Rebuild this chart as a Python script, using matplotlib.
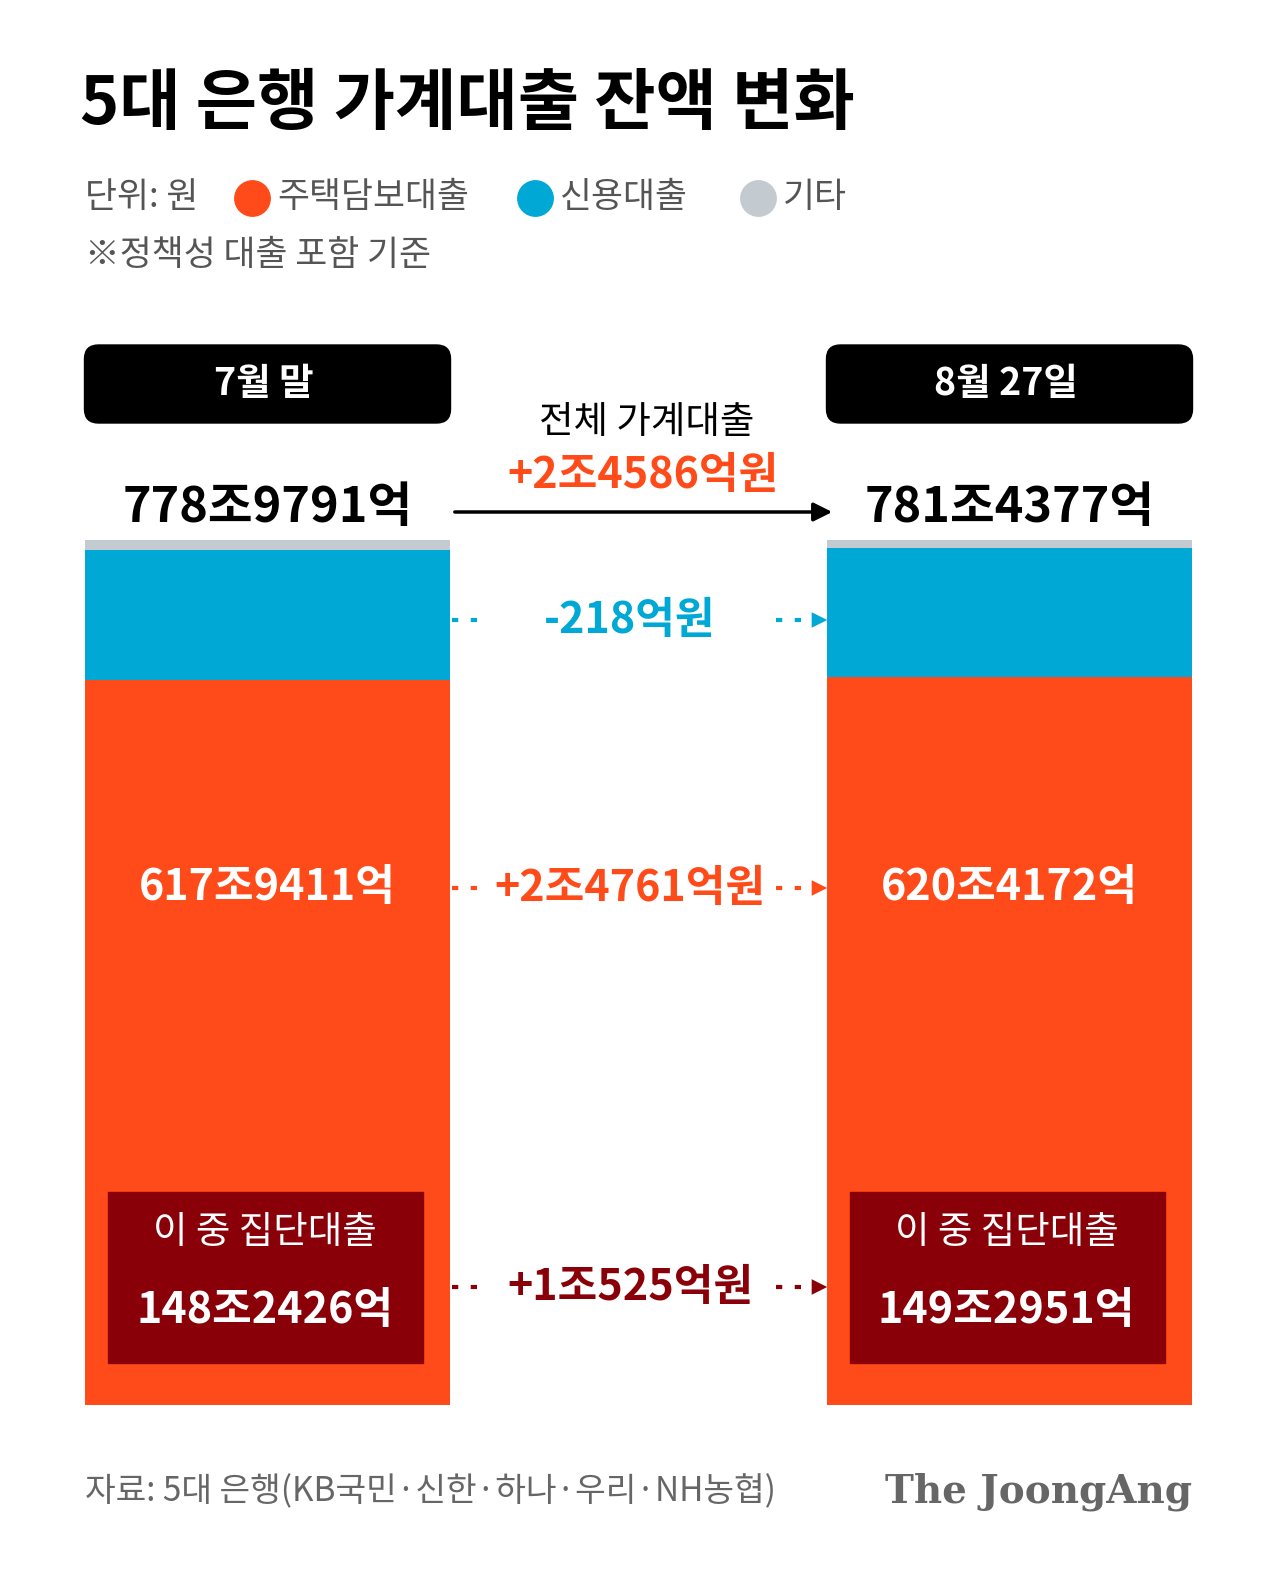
import matplotlib.pyplot as plt
from matplotlib.patches import FancyBboxPatch, Rectangle

plt.rcParams['font.family'] = ['Noto Sans CJK KR', 'DejaVu Sans']

# 화면상 구간 높이(픽셀 단위로 그림에서 읽음, 실제 비율 아님)
periods = ['7월 말', '8월 27일']
totals = ['778조9791억', '781조4377억']
mortgage_h = [725, 728]
credit_h = [130, 129]
other_h = [10, 8]
mortgage_lbl = ['617조9411억', '620조4172억']
group_lbl = ['148조2426억', '149조2951억']
diffs = ['+2조4586억원', '-218억원', '+2조4761억원', '+1조525억원']

ORANGE = '#FF4B19'
BLUE = '#00A8D6'
GREY = '#C3CAD0'
DARK = '#8A0008'

W, H = 1280, 1579
fig = plt.figure(figsize=(W / 100, H / 100), dpi=100)
ax = fig.add_axes([0, 0, 1, 1])
ax.set_xlim(0, W)
ax.set_ylim(0, H)
ax.axis('off')

def Y(py):
    return H - py

xs = [267.5, 1009.5]
bw = 365
base = Y(1405)
ax.bar(xs, mortgage_h, bw, bottom=base, color=ORANGE)
b2 = [base + m for m in mortgage_h]
ax.bar(xs, credit_h, bw, bottom=b2, color=BLUE)
b3 = [b + c for b, c in zip(b2, credit_h)]
ax.bar(xs, other_h, bw, bottom=b3, color=GREY)

# title / legend
ax.text(80, Y(105), '5대 은행 가계대출 잔액 변화', fontsize=48, fontweight='bold', va='center')
ax.text(85, Y(197), '단위: 원', fontsize=25, fontweight='medium', color='#555555', va='center')
for cx, col, lbl in [(252, ORANGE, '주택담보대출'), (535, BLUE, '신용대출'), (758, GREY, '기타')]:
    ax.scatter([cx], [Y(198)], s=650, color=col)
    ax.text(cx + 25, Y(197), lbl, fontsize=25, fontweight='medium', color='#555555', va='center')
ax.text(85, Y(255), '※정책성 대출 포함 기준', fontsize=25, fontweight='medium', color='#555555', va='center')

for i, x in enumerate(xs):
    ax.add_patch(FancyBboxPatch((x - 183, Y(423)), 366, 78, boxstyle='round,pad=0,rounding_size=14',
                                color='black'))
    ax.text(x - 4, Y(383), periods[i], fontsize=27, fontweight='bold', color='white', ha='center', va='center')
    ax.text(x, Y(507), totals[i], fontsize=35, fontweight='bold', ha='center', va='center')
    ax.text(x, Y(887), mortgage_lbl[i], fontsize=31, fontweight='bold', color='white', ha='center', va='center')
    ax.add_patch(Rectangle((x - 160, Y(1363)), 315, 171, color=DARK))
    ax.text(x - 3, Y(1233), '이 중 집단대출', fontsize=27, fontweight='medium', color='white', ha='center', va='center')
    ax.text(x - 3, Y(1310), group_lbl[i], fontsize=31, fontweight='bold', color='white', ha='center', va='center')

ax.text(647, Y(422), '전체 가계대출', fontsize=27, fontweight='medium', ha='center', va='center')
ax.text(643, Y(475), diffs[0], fontsize=31, fontweight='bold', color=ORANGE, ha='center', va='center')
ax.annotate('', xy=(835, Y(512)), xytext=(452, Y(512)),
            arrowprops=dict(arrowstyle='-|>', color='black', lw=2.5, mutation_scale=28))

for py, col, txt in [(620, BLUE, diffs[1]), (888, ORANGE, diffs[2]), (1287, DARK, diffs[3])]:
    ax.plot([452, 485], [Y(py), Y(py)], color=col, lw=3, ls=(0, (1.5, 3)))
    ax.plot([776, 808], [Y(py), Y(py)], color=col, lw=3, ls=(0, (1.5, 3)))
    ax.annotate('', xy=(830, Y(py)), xytext=(806, Y(py)),
                arrowprops=dict(arrowstyle='-|>', color=col, lw=0, mutation_scale=28))
    ax.text(630, Y(py), txt, fontsize=31, fontweight='bold', color=col, ha='center', va='center')

ax.text(85, Y(1492), '자료: 5대 은행(KB국민·신한·하나·우리·NH농협)', fontsize=24, fontweight='medium',
        color='#666666', va='center')
ax.text(1192, Y(1492), 'The JoongAng', fontsize=28, fontweight='bold', family='DejaVu Serif',
        color='#666666', ha='right', va='center')

fig.savefig('out.png', dpi=100, facecolor='white')
